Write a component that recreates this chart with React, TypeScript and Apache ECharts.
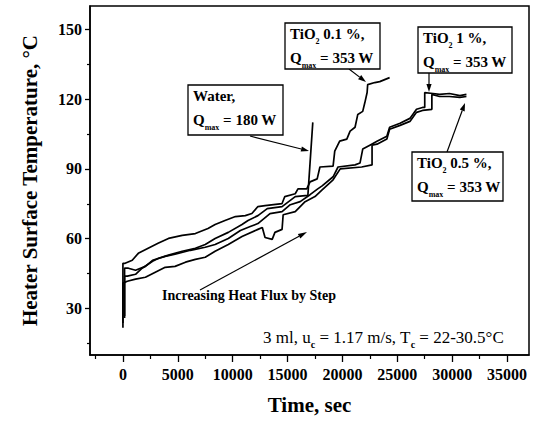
import React, { useEffect, useRef } from "react";
import * as echarts from "echarts";

// ---- axis ticks ----
const xMajorTicks = [0, 5000, 10000, 15000, 20000, 25000, 30000, 35000];
const xMinorTicks = [-2500, 2500, 7500, 12500, 17500, 22500, 27500, 32500];
const yMajorTicks = [30, 60, 90, 120, 150];
const yMinorTicks = [15, 45, 75, 105, 135];

// ---- series (time [s], temperature [°C]) ----
const water: [number, number][] = [
  [150, 25.9], [150, 43.9], [400, 43.9], [1150, 44.7], [1750, 47.3], [2700, 50.3], [3250, 51.6],
  [4150, 52.9], [5400, 54.6], [6600, 55.9], [7500, 57.5], [8400, 60.1], [9600, 62.7], [10850, 66.1],
  [11400, 67.8], [12300, 69.9], [13150, 72.9], [14500, 73.8], [15700, 78.1], [16600, 78.5],
  [16850, 78.5], [17300, 110.0],
];

const tio2_01: [number, number][] = [
  [0, 23.8], [0, 49.4], [200, 49.4], [850, 50.7], [1400, 53.7], [2300, 55.9], [3200, 58.0],
  [4150, 60.1], [5400, 61.4], [6600, 62.2], [7750, 64.4], [8400, 66.1], [9300, 67.8], [10250, 69.5],
  [11150, 69.9], [11750, 70.8], [12300, 73.8], [12950, 74.2], [14500, 75.1], [14750, 78.1],
  [15700, 79.3], [15950, 81.4], [16750, 81.4], [17050, 84.4], [17700, 85.7], [17950, 90.8],
  [19150, 91.2], [19300, 97.6], [19750, 101.9], [20400, 102.8], [20700, 106.2], [21150, 107.9],
  [21400, 113.4], [21850, 114.7], [22050, 118.6], [22250, 122.8], [22300, 126.2], [22950, 127.1],
  [23400, 127.5], [24300, 129.2],
];

const tio2_1: [number, number][] = [
  [150, 26.8], [150, 47.3], [500, 47.3], [1150, 46.4], [2050, 48.1], [2700, 50.7], [3850, 52.4],
  [4750, 53.3], [6150, 55.0], [7500, 56.3], [8400, 57.5], [9600, 60.1], [10700, 63.5], [11600, 65.2],
  [12300, 66.5], [13400, 70.8], [14500, 71.6], [15250, 74.6], [16150, 75.9], [17050, 78.9],
  [17750, 81.4], [18150, 82.7], [19150, 86.6], [19600, 90.8], [21150, 91.7], [21600, 92.5],
  [21850, 98.5], [22500, 100.2], [23150, 101.9], [24050, 104.0], [24300, 107.9], [25250, 109.6],
  [26150, 111.7], [26750, 115.6], [27300, 116.4], [27500, 116.4], [27500, 122.8], [28250, 122.4],
  [28850, 122.0], [29750, 122.4], [30700, 121.5], [31300, 122.0],
];

const tio2_05: [number, number][] = [
  [0, 21.7], [0, 40.9], [400, 41.7], [1150, 42.6], [2050, 43.4], [2950, 45.6], [3850, 47.7],
  [4750, 48.1], [5700, 49.9], [6600, 51.1], [7500, 52.0], [8400, 54.6], [9600, 57.5], [10850, 60.9],
  [12300, 64.0], [12700, 64.8], [12950, 60.5], [13600, 59.7], [13850, 62.7], [14500, 64.0],
  [14600, 70.3], [15700, 71.6], [16600, 75.9], [17500, 78.1], [18150, 81.0], [19150, 85.3],
  [19800, 90.0], [21750, 90.8], [22700, 91.7], [22700, 100.2], [23150, 100.6], [24050, 102.8],
  [24300, 107.0], [25250, 108.7], [26150, 110.4], [26750, 114.3], [27300, 115.1], [28150, 115.6],
  [28150, 122.0], [28850, 121.1], [29750, 121.1], [30700, 120.7], [31300, 121.1],
];

const SERIF = "'Liberation Serif', 'Times New Roman', serif";
const BLACK = "#000";

const boxRich = {
  b: { fontFamily: SERIF, fontWeight: "bold", fontSize: 15, lineHeight: 22, fill: BLACK, color: BLACK },
  s: { fontFamily: SERIF, fontWeight: "bold", fontSize: 8, lineHeight: 9, verticalAlign: "bottom", fill: BLACK, color: BLACK },
};

function boxText(x: number, y: number, text: string) {
  return {
    type: "text",
    x,
    y,
    z: 10,
    style: { text, rich: boxRich, fill: BLACK, verticalAlign: "middle", align: "left" },
  };
}

function labelBox(x: number, y: number, w: number, h: number, line1: string, line2: string) {
  return [
    { type: "rect", z: 9, shape: { x, y, width: w, height: h }, style: { fill: "#fff", stroke: BLACK, lineWidth: 1.3 } },
    boxText(x + 5, y + 11, line1),
    boxText(x + 5, y + 35, line2),
  ];
}

function arrow(x1: number, y1: number, x2: number, y2: number, head = 8, half = 2.6) {
  const dx = x2 - x1;
  const dy = y2 - y1;
  const len = Math.sqrt(dx * dx + dy * dy);
  const ux = dx / len;
  const uy = dy / len;
  const bx = x2 - ux * head;
  const by = y2 - uy * head;
  return [
    { type: "line", z: 8, shape: { x1, y1, x2: bx, y2: by }, style: { stroke: BLACK, lineWidth: 1.2 } },
    {
      type: "polygon",
      z: 8,
      shape: { points: [[x2, y2], [bx - uy * half, by + ux * half], [bx + uy * half, by - ux * half]] },
      style: { fill: BLACK },
    },
  ];
}

export default function App() {
  const ref = useRef<HTMLDivElement>(null);
  useEffect(() => {
    const chart = echarts.init(ref.current!, null, { renderer: "svg" });
    const lineSeries = (name: string, data: [number, number][]) => ({
      name,
      type: "line",
      data,
      showSymbol: false,
      symbol: "none",
      lineStyle: { color: BLACK, width: 1.7 },
      z: 3,
    });
    const tickLabel = {
      fontFamily: SERIF,
      fontWeight: "bold",
      fontSize: 16,
      color: BLACK,
      formatter: (v: number) => String(v),
    };
    chart.setOption({
      animation: false,
      backgroundColor: "#fff",
      textStyle: { color: BLACK },
      grid: { left: 90, right: 7, top: 6, bottom: 67, show: true, borderColor: BLACK, borderWidth: 1.5 },
      xAxis: [
        {
          type: "value",
          position: "bottom",
          min: -3000,
          max: 37000,
          name: "Time, sec",
          nameLocation: "middle",
          nameGap: 39,
          nameTextStyle: { fontFamily: SERIF, fontWeight: "bold", fontSize: 21, color: BLACK },
          axisLine: { show: true, onZero: false, lineStyle: { color: BLACK, width: 1.5 } },
          axisTick: { show: true, inside: false, length: 7, customValues: xMajorTicks, lineStyle: { color: BLACK, width: 1.3 } },
          axisLabel: { ...tickLabel, customValues: xMajorTicks, margin: 11 },
          splitLine: { show: false },
        },
        {
          type: "value",
          position: "bottom",
          min: -3000,
          max: 37000,
          axisLine: { show: false, onZero: false },
          axisTick: { show: true, inside: false, length: 4, customValues: xMinorTicks, lineStyle: { color: BLACK, width: 1.2 } },
          axisLabel: { show: false },
          splitLine: { show: false },
        },
      ],
      yAxis: [
        {
          type: "value",
          position: "left",
          min: 10,
          max: 160,
          name: "Heater Surface Temperature, °C",
          nameLocation: "middle",
          nameGap: 50,
          nameTextStyle: { fontFamily: SERIF, fontWeight: "bold", fontSize: 21, color: BLACK },
          axisLine: { show: true, onZero: false, lineStyle: { color: BLACK, width: 1.5 } },
          axisTick: { show: true, inside: false, length: 5, customValues: yMajorTicks, lineStyle: { color: BLACK, width: 1.3 } },
          axisLabel: { ...tickLabel, customValues: yMajorTicks, margin: 8 },
          splitLine: { show: false },
        },
        {
          type: "value",
          position: "left",
          min: 10,
          max: 160,
          axisLine: { show: false, onZero: false },
          axisTick: { show: true, inside: false, length: 3, customValues: yMinorTicks, lineStyle: { color: BLACK, width: 1.2 } },
          axisLabel: { show: false },
          splitLine: { show: false },
        },
      ],
      series: [
        lineSeries("Water", water),
        lineSeries("TiO2 0.1 %", tio2_01),
        lineSeries("TiO2 1 %", tio2_1),
        lineSeries("TiO2 0.5 %", tio2_05),
      ],
      graphic: [
        ...labelBox(188, 85, 95, 50, "{b|Water,}", "{b|Q}{s|max}{b| = 180 W}"),
        ...labelBox(285, 23, 95, 46, "{b|TiO}{s|2}{b| 0.1 %,}", "{b|Q}{s|max}{b| = 353 W}"),
        ...labelBox(418, 27, 94, 46, "{b|TiO}{s|2}{b| 1 %,}", "{b|Q}{s|max}{b| = 353 W}"),
        ...labelBox(412, 152, 91, 49, "{b|TiO}{s|2}{b| 0.5 %,}", "{b|Q}{s|max}{b| = 353 W}"),
        ...arrow(250, 136, 309, 151),
        ...arrow(349, 69, 366, 82),
        ...arrow(429, 73, 429, 92),
        ...arrow(447, 152, 465, 103),
        ...arrow(200, 290, 307, 232, 9, 2.6),
        {
          type: "text",
          x: 162,
          y: 295,
          z: 10,
          style: {
            text: "Increasing Heat Flux by Step",
            fontFamily: SERIF,
            fontWeight: "bold",
            fontSize: 14,
            fill: BLACK,
            verticalAlign: "middle",
            align: "left",
          },
        },
        {
          type: "text",
          x: 263,
          y: 337,
          z: 10,
          style: {
            text: "{r|3 ml, u}{c|c}{r| = 1.17 m/s, T}{c|c}{r| = 22-30.5°C}",
            fill: BLACK,
            rich: {
              r: { fontFamily: SERIF, fontSize: 17, lineHeight: 24, fill: BLACK, color: BLACK },
              c: { fontFamily: SERIF, fontWeight: "bold", fontSize: 10, lineHeight: 10, verticalAlign: "bottom", fill: BLACK, color: BLACK },
            },
            verticalAlign: "middle",
            align: "left",
          },
        },
      ],
    });
    return () => chart.dispose();
  }, []);
  return (
    <div
      ref={ref}
      style={{ position: "fixed", left: 0, top: 0, width: 536, height: 422, background: "#fff" }}
    />
  );
}
